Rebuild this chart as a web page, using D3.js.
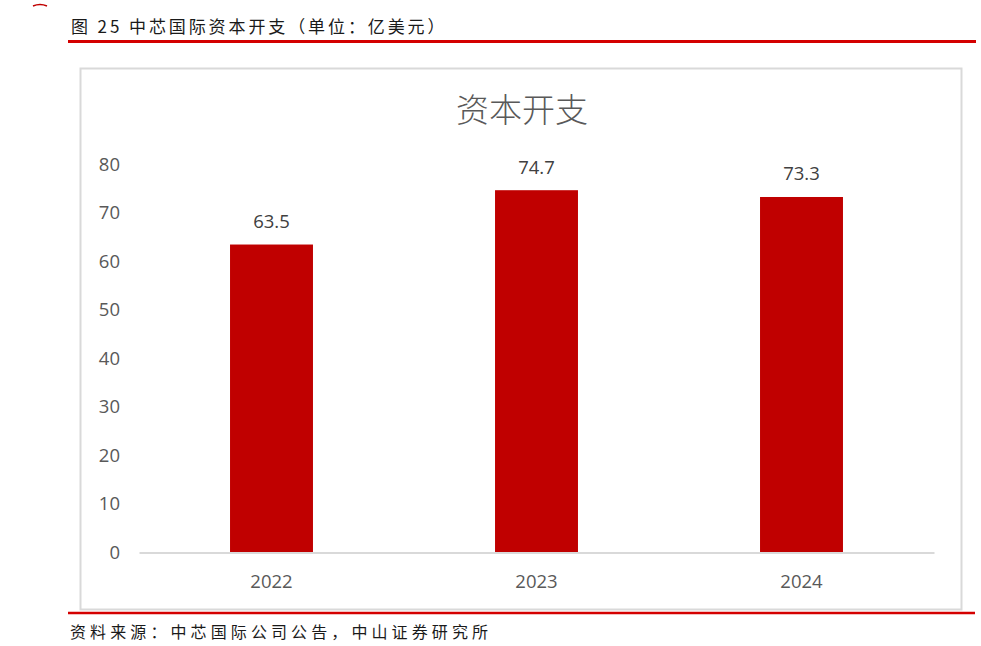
<!DOCTYPE html>
<html>
<head>
<meta charset="utf-8">
<script src="https://cdn.jsdelivr.net/npm/d3@7"></script>
<style>
  body { margin: 0; background: #fff; }
  svg { display: block; }
</style>
</head>
<body>
<div id="chart"></div>
<script>
// data
const years = ["2022", "2023", "2024"]
const capex = [63.5, 74.7, 73.3]
const yTicks = [0, 10, 20, 30, 40, 50, 60, 70, 80]

const figTitle = "图 25  中芯国际资本开支（单位：亿美元）"
const chartTitle = "资本开支"
const source = "资料来源：中芯国际公司公告，中山证券研究所"

const W = 981, H = 646
const cjk = "'Noto Sans CJK SC', 'Noto Sans', sans-serif"
const num = "'Open Sans', 'Noto Sans', sans-serif"

const svg = d3.select("#chart")
    .append("svg")
    .attr("width", W)
    .attr("height", H)

// little red mark at the very top left (cut off logo)
svg.append("path")
    .attr("d", "M33,6 Q40,3 47,6")
    .attr("fill", "none")
    .attr("stroke", "#c00000")
    .attr("stroke-width", 1.5)

// figure caption + red rule
svg.append("text")
    .attr("x", 71)
    .attr("y", 33)
    .attr("font-family", cjk)
    .attr("font-size", 17)
    .attr("letter-spacing", 2.9)
    .attr("fill", "#1a1a1a")
    .text(figTitle)

svg.append("line")
    .attr("x1", 68).attr("x2", 976)
    .attr("y1", 41.5).attr("y2", 41.5)
    .attr("stroke", "#d40000")
    .attr("stroke-width", 3)

// chart frame
svg.append("rect")
    .attr("x", 80.5).attr("y", 68.5)
    .attr("width", 881).attr("height", 541)
    .attr("fill", "#fff")
    .attr("stroke", "#d9d9d9")
    .attr("stroke-width", 2)

svg.append("text")
    .attr("x", 522)
    .attr("y", 122)
    .attr("text-anchor", "middle")
    .attr("font-family", cjk)
    .attr("font-size", 33)
    .attr("font-weight", 300)
    .attr("fill", "#595959")
    .text(chartTitle)

// scales
const xScale = d3.scaleBand()
    .domain(years)
    .range([139, 934])
    .paddingInner(0.687)
    .paddingOuter(0.3435)

const yScale = d3.scaleLinear()
    .domain([0, 80])
    .range([552.5, 164.5])

// y axis: labels only
const yAxis = d3.axisLeft(yScale)
    .tickValues(yTicks)
    .tickSize(0)
    .tickPadding(0)

svg.append("g")
    .attr("class", "axis y-axis")
    .attr("transform", "translate(120,0)")
    .call(yAxis)
    .call(g => g.select(".domain").remove())
    .selectAll("text")
    .attr("font-family", num)
    .attr("font-size", 18.5)
    .attr("fill", "#595959")

// bars
svg.selectAll(".bars")
    .data(capex)
    .join("rect")
    .attr("class", "bars")
    .attr("x", (d, i) => xScale(years[i]))
    .attr("width", xScale.bandwidth())
    .attr("y", d => yScale(d))
    .attr("height", d => yScale(0) - yScale(d))
    .attr("fill", "#c00000")

// x axis
const xAxis = d3.axisBottom(xScale).tickSize(0).tickPadding(22)

svg.append("g")
    .attr("class", "axis x-axis")
    .attr("transform", `translate(0,${yScale(0)})`)
    .call(xAxis)
    .call(g => g.select(".domain")
        .attr("stroke", "#d9d9d9")
        .attr("stroke-width", 2))
    .selectAll("text")
    .attr("font-family", num)
    .attr("font-size", 18.5)
    .attr("fill", "#595959")

// value labels
svg.selectAll(".val")
    .data(capex)
    .join("text")
    .attr("class", "val")
    .attr("x", (d, i) => xScale(years[i]) + xScale.bandwidth() / 2)
    .attr("y", d => yScale(d) - 23)
    .attr("dy", "0.35em")
    .attr("text-anchor", "middle")
    .attr("font-family", num)
    .attr("font-size", 18.5)
    .attr("fill", "#404040")
    .text(d => d.toFixed(1))

// bottom rule + source
svg.append("line")
    .attr("x1", 68).attr("x2", 975)
    .attr("y1", 613).attr("y2", 613)
    .attr("stroke", "#d40000")
    .attr("stroke-width", 2.5)

svg.append("text")
    .attr("x", 70)
    .attr("y", 638)
    .attr("font-family", cjk)
    .attr("font-size", 16)
    .attr("letter-spacing", 4.1)
    .attr("fill", "#1a1a1a")
    .text(source)
</script>
</body>
</html>
